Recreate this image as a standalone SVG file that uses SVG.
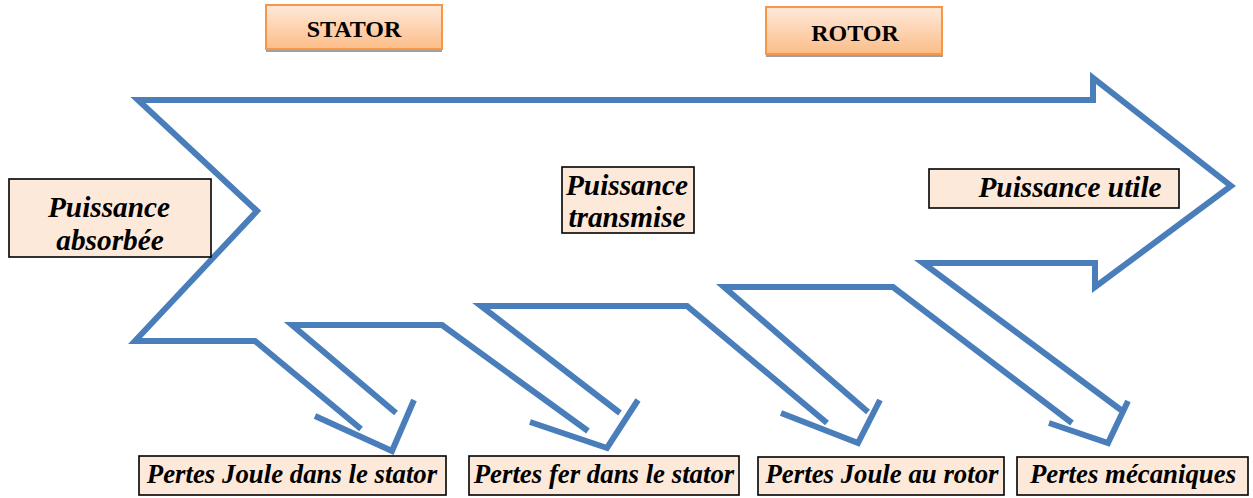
<svg xmlns="http://www.w3.org/2000/svg" width="1253" height="498" viewBox="0 0 1253 498">
<style>
.ln{fill:none;stroke:#4A7EBB;stroke-width:6;stroke-linejoin:miter;stroke-miterlimit:10}
.bx{fill:#FDE9D9;stroke:#000;stroke-width:1.6}
.hd{fill:url(#og);stroke:#F79646;stroke-width:2}
.sh{fill:#A0A0A0}
.t{font-family:'Liberation Serif','DejaVu Serif',serif;font-weight:bold;font-style:italic;fill:#000;text-anchor:middle}
.tl{font-size:29.3px}
.ts{font-size:26.8px}
.th{font-family:'Liberation Serif','DejaVu Serif',serif;font-weight:bold;font-size:24px;fill:#000;text-anchor:middle}
</style>
<defs>
<linearGradient id="og" x1="0" y1="0" x2="0" y2="1">
<stop offset="0" stop-color="#FFE9DA"/>
<stop offset="1" stop-color="#FBBD88"/>
</linearGradient>
</defs>
<g id="connectors">
<polyline class="ln" points="361,429 255,341 135,341 257,211 138,100 1093,100 1093,78 1231,186 1095,287 1095,263 923,263 1121,410"/>
<polyline class="ln" points="396,413 292,325 442,325 588,431"/>
<polyline class="ln" points="315,416 392,451 414,400"/>
<polyline class="ln" points="620,413 481,306 687,306 827,423"/>
<polyline class="ln" points="530,422 607,448 638,400"/>
<polyline class="ln" points="868,412 724,287 893,287 1072,423"/>
<polyline class="ln" points="781,413 858,443 880,400"/>
<polyline class="ln" points="1049,423 1108,443 1128,401"/>
</g>
<g id="stator">
<rect class="sh" x="266" y="9" width="176" height="43"/>
<rect class="hd" x="266" y="5" width="176" height="44"/>
<text class="th" x="354" y="37">STATOR</text>
</g>
<g id="rotor">
<rect class="sh" x="766" y="11" width="177" height="46"/>
<rect class="hd" x="766" y="7" width="176" height="47"/>
<text class="th" x="855" y="41">ROTOR</text>
</g>
<g id="puissance-absorbee">
<rect class="bx" x="9" y="179" width="202" height="78"/>
<text class="t tl" x="109" y="217">Puissance</text>
<text class="t tl" x="110" y="250">absorbée</text>
</g>
<g id="puissance-transmise">
<rect class="bx" x="562" y="167" width="132" height="66"/>
<text class="t tl" x="627" y="195">Puissance</text>
<text class="t tl" x="627" y="227">transmise</text>
</g>
<g id="puissance-utile">
<rect class="bx" x="929" y="169" width="250" height="39"/>
<text class="t tl" x="1070" y="197">Puissance utile</text>
</g>
<g id="pertes-joule-stator">
<rect class="bx" x="139" y="456" width="307" height="39"/>
<text class="t ts" x="292" y="483">Pertes Joule dans le stator</text>
</g>
<g id="pertes-fer-stator">
<rect class="bx" x="469" y="456" width="270" height="39"/>
<text class="t ts" x="604" y="483">Pertes fer dans le stator</text>
</g>
<g id="pertes-joule-rotor">
<rect class="bx" x="758" y="457" width="246" height="38"/>
<text class="t ts" x="882" y="483">Pertes Joule au rotor</text>
</g>
<g id="pertes-mecaniques">
<rect class="bx" x="1017" y="457" width="231" height="38"/>
<text class="t ts" x="1133" y="483">Pertes mécaniques</text>
</g>
</svg>
